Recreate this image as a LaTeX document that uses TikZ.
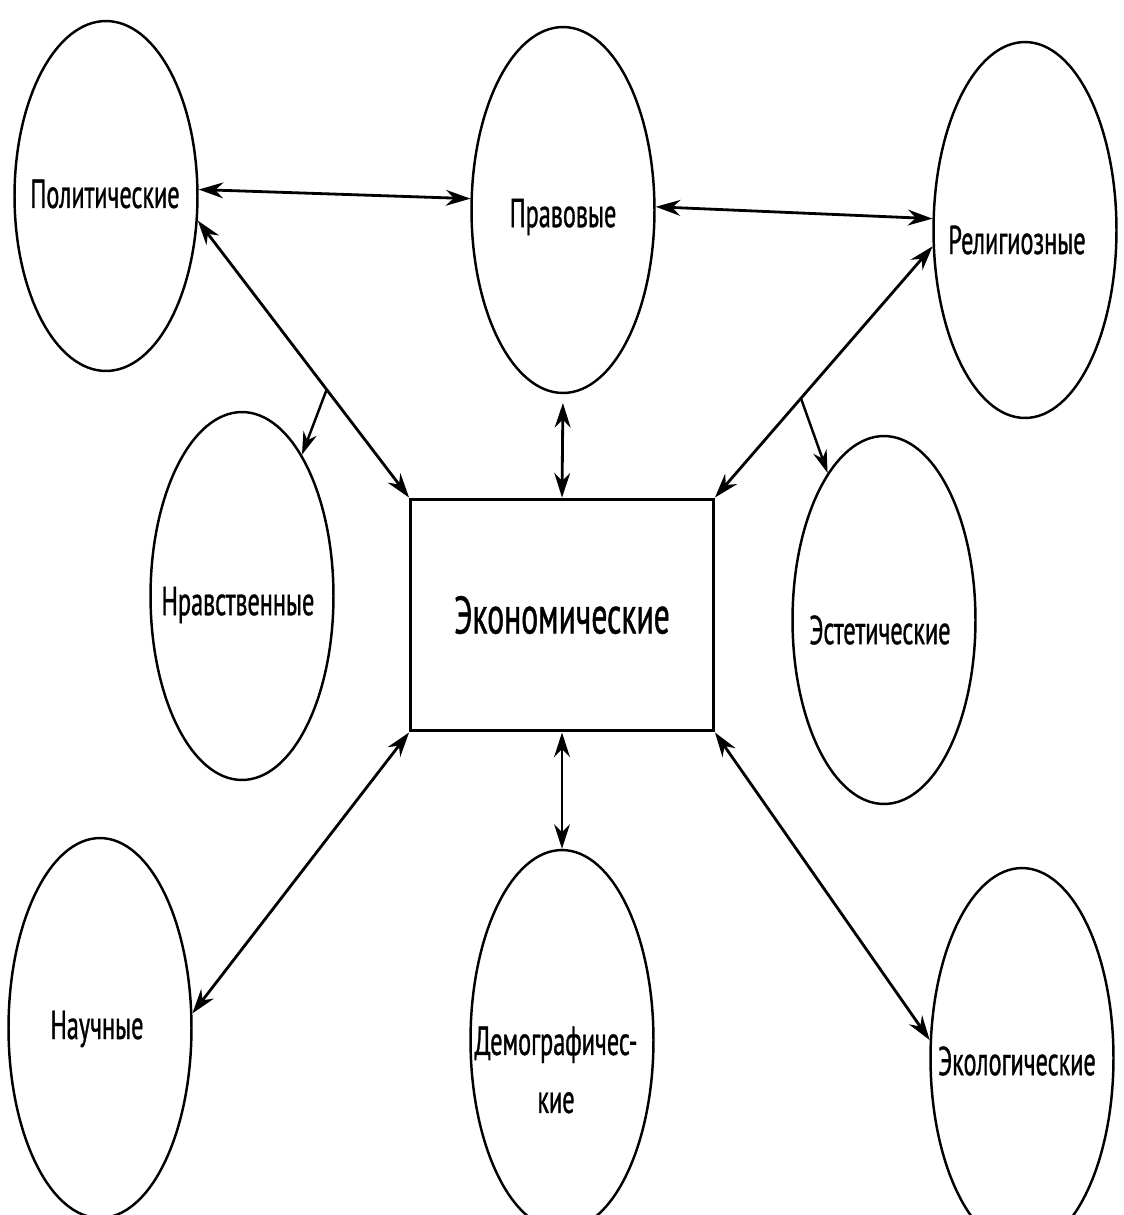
\documentclass[tikz,border=0pt]{standalone}
\usepackage{fontspec}
\setmainfont{PT Sans}[FakeStretch=0.6,FakeBold=0.8]
\usetikzlibrary{shapes.geometric,arrows.meta}
\tikzset{
  oval/.style={draw, line width=1.4pt, ellipse, inner sep=0pt, minimum width=3.66cm},
  lbl/.style={inner sep=0pt, align=center, font=\fontsize{23}{33}\selectfont},
  econbox/.style={draw, line width=1.7pt, rectangle, minimum width=6.06cm, minimum height=4.64cm, font=\fontsize{30}{36}\selectfont},
  link/.style={line width=1.6pt, {Stealth[length=14pt,width=9pt]}-{Stealth[length=14pt,width=9pt]}},
  onelink/.style={line width=1.4pt, -{Stealth[length=13pt,width=8pt]}}
}
\begin{document}
\begin{tikzpicture}[x=0.02cm,y=-0.02cm]
\clip (0,0) rectangle (1124,1215);
\fill[white] (0,0) rectangle (1124,1215);
\node[oval, minimum height=7.0cm] (pol) at (106,196) {};
\node[oval, minimum height=7.32cm] (prav) at (563,210) {};
\node[oval, minimum height=7.52cm] (rel) at (1025,230) {};
\node[oval, minimum height=7.36cm] (nrav) at (242,596) {};
\node[oval, minimum height=7.36cm] (est) at (884,620) {};
\node[oval, minimum height=7.6cm] (nauch) at (100,1028) {};
\node[oval, minimum height=7.6cm] (dem) at (562,1040) {};
\node[oval, minimum height=7.6cm] (eko) at (1022,1058) {};
\node[econbox] (econ) at (562,615) {Экономические};

\node[lbl] (polT) at (105,194) {Политические};
\node[lbl] (pravT) at (563,217) {Правовые};
\node[lbl] (relT) at (1017,240) {Религиозные};
\node[lbl] (nravT) at (238,605) {Нравственные};
\node[lbl] (estT) at (880,630) {Эстетические};
\node[lbl] (nauchT) at (97,1029) {Научные};
\node[lbl] (demT) at (556,1070) {Демографичес-\\кие};
\node[lbl] (ekoT) at (1017,1061) {Экологические};

\draw[link] (pol.4) -- (prav.173);
\draw[link] (prav.2) -- (rel.173);
\draw[link] (pol.-15) -- (econ.north west) coordinate[pos=0.61] (b1);
\draw[link, shorten <=5pt] (prav.south) -- (econ.north);
\draw[link] (rel.190) -- (econ.north east) coordinate[pos=0.605] (b2);
\draw[onelink] (b1) -- (nrav.67);
\draw[onelink] (b2) -- (est.111);
\draw[link] (nauch.9) -- (econ.south west);
\draw[link] (dem.north) -- (econ.south);
\draw[link] (eko.169) -- (econ.south east);
\end{tikzpicture}
\end{document}
